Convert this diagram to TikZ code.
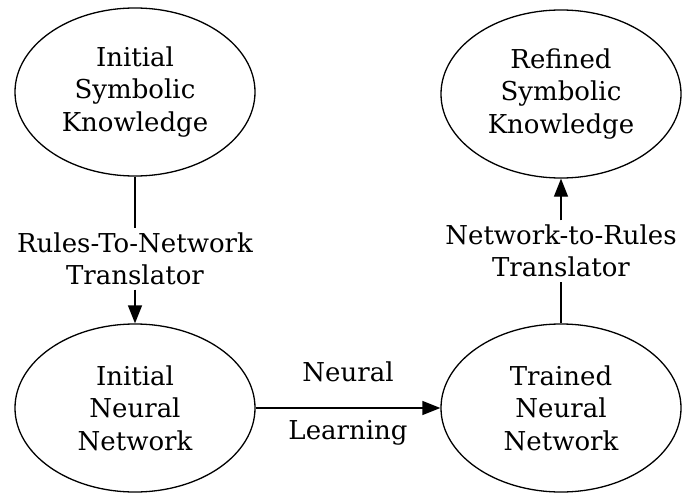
\documentclass[tikz,border=0pt]{standalone}
\usepackage{fontspec}
\setmainfont{DejaVu Serif}
\usetikzlibrary{arrows.meta,shapes.geometric}
\begin{document}
\begin{tikzpicture}[x=1pt,y=-1pt,
  txt/.style={font=\fontsize{26}{32.5}\selectfont, align=center},
  state/.style={txt, draw, ellipse, line width=1.3pt, minimum width=240pt, minimum height=168pt, inner sep=0pt},
  lab/.style={txt, inner xsep=0pt, inner ysep=4pt},
  conn/.style={line width=1.3pt},
  arr/.style={conn, -{Triangle[length=18pt,width=14pt]}}
]
\useasboundingbox (0,0) rectangle (687,497);
\node[state] (isk) at (135,92) {Initial\\Symbolic\\Knowledge};
\node[state] (rsk) at (561,94) {Refined\\Symbolic\\Knowledge};
\node[state] (inn) at (135,408) {Initial\\Neural\\Network};
\node[state] (tnn) at (561,408) {Trained\\Neural\\Network};
\node[lab] (rtn) at (135,259) {Rules-To-Network\\Translator};
\node[lab] (ntr) at (561,251) {Network-to-Rules\\Translator};
\node[txt] (neu) at (348,372) {Neural};
\node[txt] (lea) at (348,433) {Learning};
\draw[conn] (isk) -- (rtn);
\draw[arr] (rtn) -- (inn);
\draw[conn] (tnn) -- (ntr);
\draw[arr] (ntr) -- (rsk);
\draw[arr] (inn) -- (tnn);
\end{tikzpicture}
\end{document}
